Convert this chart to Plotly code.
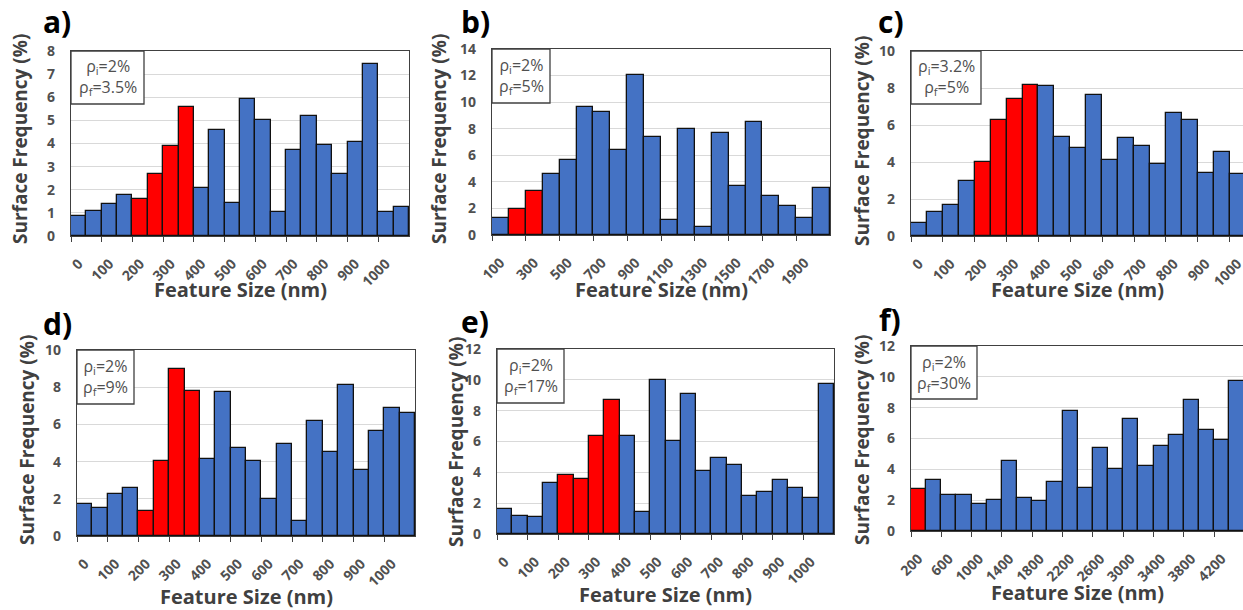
import plotly.graph_objects as go

# ---------------- data ----------------
# bin starts (nm) for each panel, and surface frequency (%) per bin
bins_a = [0, 50, 100, 150, 200, 250, 300, 350, 400, 450, 500, 550, 600, 650, 700, 750, 800, 850, 900, 950, 1000, 1050]
freq_a = [0.86, 1.08, 1.38, 1.77, 1.58, 2.66, 3.88, 5.58, 2.09, 4.6, 1.41, 5.94, 5.0, 1.04, 3.7, 5.21, 3.94, 2.7, 4.06, 7.45, 1.04, 1.24]
red_a = [200, 250, 300, 350]

bins_b = [100, 200, 300, 400, 500, 600, 700, 800, 900, 1000, 1100, 1200, 1300, 1400, 1500, 1600, 1700, 1800, 1900, 2000]
freq_b = [1.25, 1.98, 3.28, 4.61, 5.64, 9.6, 9.25, 6.39, 12.06, 7.39, 1.1, 7.97, 0.63, 7.69, 3.68, 8.47, 2.91, 2.18, 1.25, 3.56]
red_b = [200, 300]

bins_c = [0, 50, 100, 150, 200, 250, 300, 350, 400, 450, 500, 550, 600, 650, 700, 750, 800, 850, 900, 950, 1000]
freq_c = [0.68, 1.31, 1.67, 3.0, 3.99, 6.26, 7.39, 8.17, 8.09, 5.34, 4.75, 7.64, 4.1, 5.31, 4.86, 3.88, 6.67, 6.28, 3.42, 4.53, 3.35]
red_c = [200, 250, 300, 350]

bins_d = [0, 50, 100, 150, 200, 250, 300, 350, 400, 450, 500, 550, 600, 650, 700, 750, 800, 850, 900, 950, 1000, 1050]
freq_d = [1.72, 1.49, 2.24, 2.6, 1.34, 4.01, 8.96, 7.81, 4.12, 7.72, 4.73, 4.05, 2.01, 4.95, 0.82, 6.2, 4.53, 8.14, 3.53, 5.66, 6.88, 6.6]
red_d = [200, 250, 300, 350]

bins_e = [0, 50, 100, 150, 200, 250, 300, 350, 400, 450, 500, 550, 600, 650, 700, 750, 800, 850, 900, 950, 1000, 1050]
freq_e = [1.6, 1.19, 1.1, 3.3, 3.8, 3.56, 6.37, 8.68, 6.37, 1.43, 10.0, 6.03, 9.05, 4.08, 4.9, 4.47, 2.48, 2.72, 3.48, 2.98, 2.31, 9.76]
red_e = [200, 250, 300, 350]

bins_f = [200, 400, 600, 800, 1000, 1200, 1400, 1600, 1800, 2000, 2200, 2400, 2600, 2800, 3000, 3200, 3400, 3600, 3800, 4000, 4200, 4400]
freq_f = [2.75, 3.32, 2.34, 2.34, 1.73, 1.99, 4.54, 2.11, 1.97, 3.16, 7.81, 2.79, 5.38, 4.0, 7.27, 4.24, 5.53, 6.2, 8.5, 6.54, 5.88, 9.75]
red_f = [200]

rho_i = ["2%", "2%", "3.2%", "2%", "2%", "2%"]
rho_f = ["3.5%", "5%", "5%", "9%", "17%", "30%"]
panel_labels = ["a)", "b)", "c)", "d)", "e)", "f)"]
x_title = "Feature Size (nm)"
y_title = "Surface Frequency (%)"

# ---------------- layout settings ----------------
W, H = 1243, 610
BLUE = "#4472C4"
RED = "#FF0000"
FRAME = "#404040"
TXT = "#505050"
FONT = "Open Sans"

panels = [
    dict(bins=bins_a, freq=freq_a, red=red_a, bw=50, xr=[0, 1100], yr=[0, 8], dt=1,
         px=(71, 409), py=(51, 236), box=(73, 53), lab=(41, 22), right=True,
         xt=289, yt=(20, 139)),
    dict(bins=bins_b, freq=freq_b, red=red_b, bw=100, xr=[100, 2100], yr=[0, 14], dt=2,
         px=(492, 830), py=(49, 235), box=(58, 54), lab=(459, 22), right=True,
         xt=289, yt=(439, 139)),
    dict(bins=bins_c, freq=freq_c, red=red_c, bw=50, xr=[0, 1042], yr=[0, 10], dt=2,
         px=(911, 1243), py=(51, 236), box=(70, 53), lab=(876, 22), right=False,
         xt=289, yt=(862, 141)),
    dict(bins=bins_d, freq=freq_d, red=red_d, bw=50, xr=[0, 1100], yr=[0, 10], dt=2,
         px=(77, 415), py=(350, 536), box=(57, 54), lab=(41, 323), right=True,
         xt=596, yt=(27, 440)),
    dict(bins=bins_e, freq=freq_e, red=red_e, bw=50, xr=[0, 1100], yr=[0, 12], dt=2,
         px=(497, 834), py=(349, 534), box=(67, 54), lab=(459, 321), right=True,
         xt=594, yt=(456, 442)),
    dict(bins=bins_f, freq=freq_f, red=red_f, bw=200, xr=[200, 4580], yr=[0, 12], dt=2,
         px=(911, 1243), py=(346, 531), box=(66, 53), lab=(877, 319), right=False,
         xt=592, yt=(862, 440)),
]

fig = go.Figure()
shapes = []
annotations = []

for i, p in enumerate(panels):
    n = "" if i == 0 else str(i + 1)
    xa, ya = "x" + n, "y" + n
    bw = p["bw"]
    centers = [b + bw / 2 for b in p["bins"]]
    colors = [RED if b in p["red"] else BLUE for b in p["bins"]]
    fig.add_trace(go.Bar(
        x=centers, y=p["freq"], width=bw, xaxis=xa, yaxis=ya,
        marker=dict(color=colors, line=dict(color="#111111", width=1.3)),
        showlegend=False, hoverinfo="x+y"))

    # labels at centers of every other bin, tick marks on bin edges
    lab_bins = p["bins"][::2]
    tickvals = [b + bw / 2 for b in lab_bins]
    ticktext = [str(b) for b in lab_bins]
    x0, x1 = p["px"]
    y0, y1 = p["py"]
    xdom = [x0 / W, min(x1 / W, 1.0)]
    ydom = [1 - y1 / H, 1 - y0 / H]
    fig.update_layout(**{
        "xaxis" + n: dict(
            domain=xdom, anchor=ya, range=p["xr"], tickmode="array",
            tickvals=tickvals, ticktext=ticktext, tickangle=-45,
            ticks="outside", ticklen=13, tickcolor="rgba(0,0,0,0)",
            showgrid=False, zeroline=False, automargin=False,
            ticklabeloverflow="allow",
            showline=True, linecolor=FRAME, linewidth=1.3, mirror=True,
            tickfont=dict(family=FONT, size=14, color=TXT, weight="bold"),
            minor=dict(tickvals=lab_bins, ticks="outside", ticklen=5,
                       tickcolor=FRAME, tickwidth=1.2, showgrid=False),
            fixedrange=True,
        ),
        "yaxis" + n: dict(
            domain=ydom, anchor=xa, range=p["yr"], dtick=p["dt"],
            showgrid=True, gridcolor="#D9D9D9", gridwidth=1, zeroline=False,
            showline=True, linecolor=FRAME, linewidth=1.3, mirror=p["right"],
            ticks="outside", ticklen=12, tickcolor="rgba(0,0,0,0)",
            automargin=False,
            tickfont=dict(family=FONT, size=14, color=TXT, weight="bold"),
            fixedrange=True,
        ),
    })

    # axis titles
    annotations.append(dict(
        xref="paper", yref="paper", x=((x0 + min(x1, W)) / 2) / W, y=1 - p["xt"] / H,
        xanchor="center", yanchor="middle", showarrow=False, text=x_title,
        font=dict(family=FONT, size=20, color=FRAME, weight="bold")))
    annotations.append(dict(
        xref="paper", yref="paper", x=p["yt"][0] / W, y=1 - p["yt"][1] / H,
        xanchor="center", yanchor="middle", showarrow=False, text=y_title,
        textangle=-90,
        font=dict(family=FONT, size=19, color=FRAME, weight="bold")))

    # rho text box in top-left corner
    bwpx, bhpx = p["box"]
    fx = bwpx / (min(x1, W) - x0)
    fy = bhpx / (y1 - y0)
    shapes.append(dict(type="rect", xref=xa + " domain", yref=ya + " domain",
                       x0=0, x1=fx, y0=1 - fy, y1=1,
                       line=dict(color=FRAME, width=1.3), fillcolor="white", layer="above"))
    annotations.append(dict(
        xref=xa + " domain", yref=ya + " domain", x=fx / 2, y=1 - fy / 2,
        xanchor="center", yanchor="middle", showarrow=False,
        text="ρ<sub>i</sub>=" + rho_i[i] + "<br>ρ<sub>f</sub>=" + rho_f[i],
        font=dict(family=FONT, size=16, color=TXT)))

    # panel label
    lx, ly = p["lab"]
    annotations.append(dict(
        xref="paper", yref="paper", x=lx / W, y=1 - ly / H,
        xanchor="left", yanchor="middle", showarrow=False,
        text=panel_labels[i],
        font=dict(family=FONT, size=30, color="#000000", weight="bold")))

fig.update_layout(
    width=W, height=H,
    margin=dict(l=0, r=0, t=0, b=0),
    paper_bgcolor="white", plot_bgcolor="white",
    bargap=0, shapes=shapes, annotations=annotations,
    font=dict(family=FONT),
)

fig.write_html("out.html", config={"displayModeBar": False},
               post_script="document.body.style.margin='0';document.body.style.overflow='hidden';")
